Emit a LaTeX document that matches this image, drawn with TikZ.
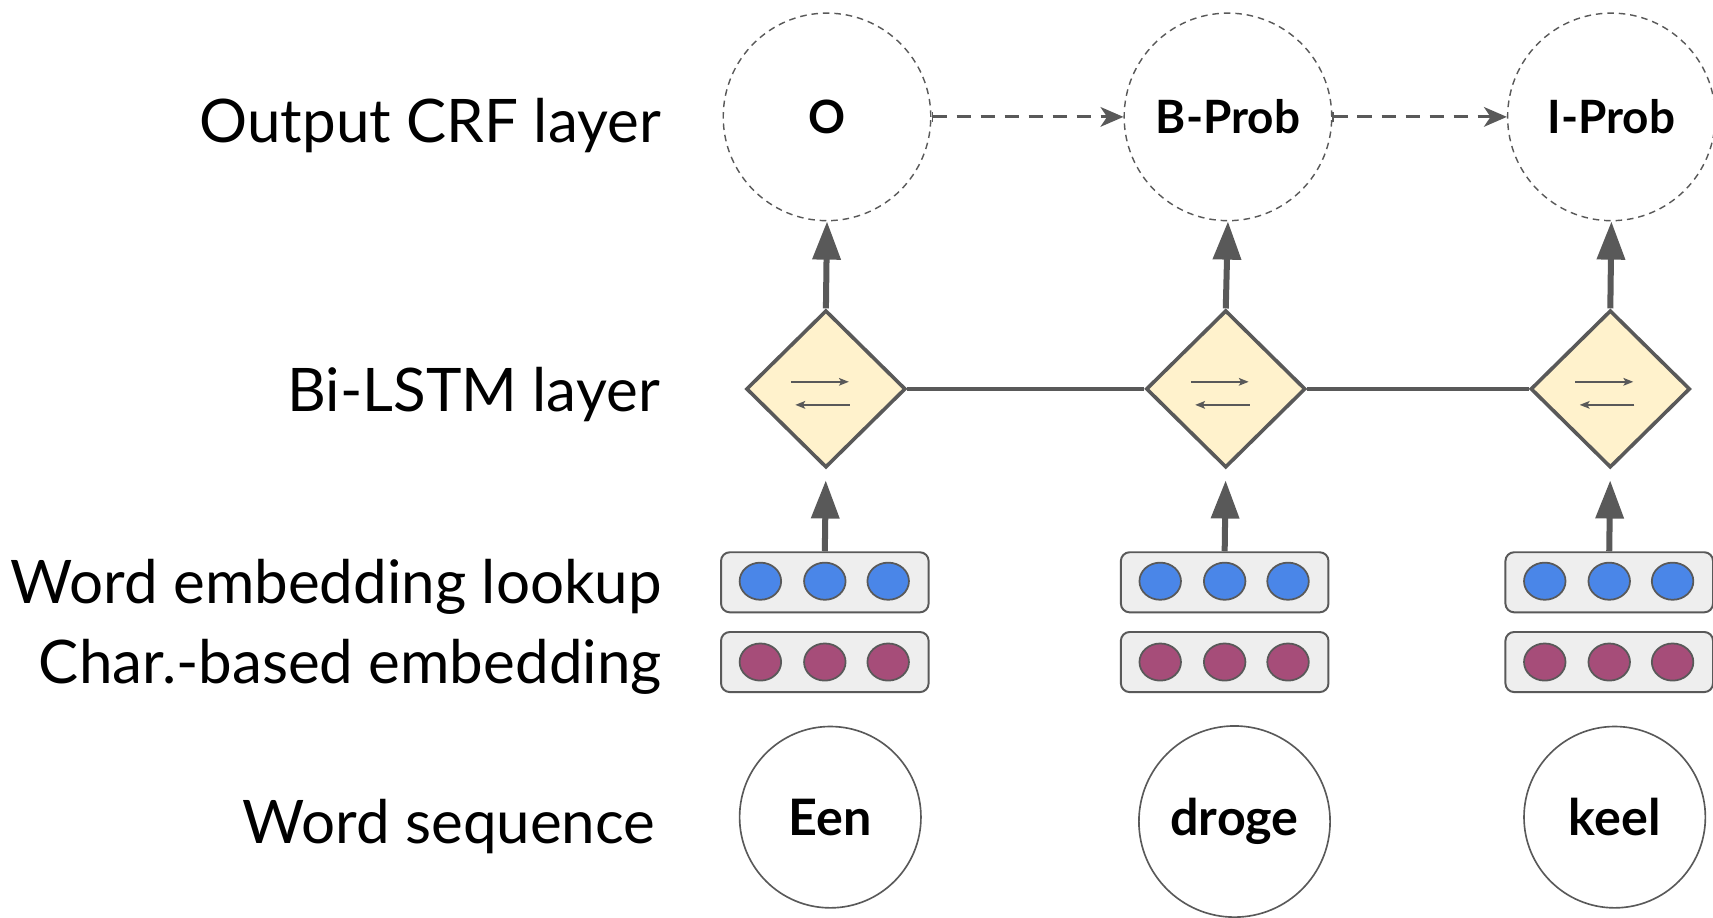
\documentclass[tikz,border=0pt]{standalone}
\usepackage{fontspec}
\setmainfont{Lato}
\usetikzlibrary{shapes.geometric,arrows.meta}

\definecolor{edge}{HTML}{595959}
\definecolor{lstmfill}{HTML}{FFF2CC}
\definecolor{boxfill}{HTML}{EEEEEE}
\definecolor{wordblue}{HTML}{4A86E8}
\definecolor{charpurple}{HTML}{A64D79}

\begin{document}
\begin{tikzpicture}[x=1pt,y=-1pt,
  layerlabel/.style={anchor=base east, inner sep=0pt, font=\fontsize{55}{64}\selectfont},
  outnode/.style={circle, draw=edge, line width=1.3pt, dash pattern=on 6pt off 4.5pt,
    minimum size=190pt, inner sep=0pt, font=\bfseries\fontsize{42}{48}\selectfont},
  wordnode/.style={circle, draw=edge, line width=1.5pt, minimum size=166pt, inner sep=0pt,
    font=\bfseries\fontsize{46}{52}\selectfont},
  lstm/.style={diamond, draw=edge, fill=lstmfill, line width=3.3pt,
    minimum width=146pt, minimum height=144pt, inner sep=0pt},
  embbox/.style={draw=edge, fill=boxfill, line width=1.8pt, rounded corners=8pt,
    minimum width=190pt, minimum height=55pt, inner sep=0pt},
  dot/.style={ellipse, draw=edge, line width=1.6pt, minimum width=38pt, minimum height=34pt, inner sep=0pt},
  upflow/.style={draw=edge, line width=5.5pt, -{Triangle[width=25pt,length=35pt]}},
  chain/.style={draw=edge, line width=3pt},
  transition/.style={draw=edge, line width=2.8pt, dash pattern=on 13pt off 9pt,
    {Bar[width=9pt,line width=1.2pt]}-{Stealth[length=21pt,width=18pt,inset=6pt]}},
  innerarrow/.style={draw=edge, line width=1.6pt, -{Stealth[length=9pt,width=7pt,inset=2pt]}}
]
\useasboundingbox (0,0) rectangle (1568,840);
\clip (0,0) rectangle (1568,840);

% layer names
\node[layerlabel] (lOut)  at (605,130) {Output CRF layer};
\node[layerlabel] (lLstm) at (604,377) {Bi-LSTM layer};
\node[layerlabel] (lWord) at (606,552) {Word embedding lookup};
\node[layerlabel] (lChar) at (606,626) {Char.-based embedding};
\node[layerlabel] (lSeq)  at (600,772) {Word sequence};

% output CRF tags
\node[outnode] (o1) at (757,107)  {O};
\node[outnode] (o2) at (1124,107) {B-Prob};
\node[outnode] (o3) at (1475,107) {I-Prob};

% Bi-LSTM cells
\node[lstm] (d1) at (756,356)  {};
\node[lstm] (d2) at (1122,356) {};
\node[lstm] (d3) at (1474,356) {};

% word and character embeddings
\foreach \i/\x in {1/755, 2/1121, 3/1473} {
  \node[embbox] (w\i) at (\x,533) {};
  \node[embbox] (c\i) at (\x,606) {};
  \foreach \k/\dx in {a/-59, b/0, c/58} {
    \node[dot, fill=wordblue]   (w\i\k) at (\x+\dx,532) {};
    \node[dot, fill=charpurple] (c\i\k) at (\x+\dx,606) {};
  }
}

% input words
\node[wordnode] (s1) at (760,748) {Een};
\node[wordnode, minimum size=175pt] (s2) at (1130,752) {droge};
\node[wordnode] (s3) at (1478,748) {keel};

% direction arrows inside the cells: forward above, backward below
\foreach \i in {1,2,3} {
  \coordinate (f\i a) at ([shift={(-32,-6.5)}]d\i.center);
  \coordinate (f\i b) at ([shift={(21,-6.5)}]d\i.center);
  \coordinate (g\i a) at ([shift={(22,14.6)}]d\i.center);
  \coordinate (g\i b) at ([shift={(-28,14.6)}]d\i.center);
  \draw[innerarrow] (f\i a) -- (f\i b);
  \draw[innerarrow] (g\i a) -- (g\i b);
}

% connections
\draw[chain] (d1.east) -- (d2.west);
\draw[chain] (d2.east) -- (d3.west);
\foreach \i in {1,2,3} {
  \draw[upflow] (d\i.north) -- (o\i.south);
  \draw[upflow, shorten >=10pt] (w\i.north) -- (d\i.south);
}
\draw[transition] (o1.east) -- (o2.west);
\draw[transition] (o2.east) -- (o3.west);
\end{tikzpicture}
\end{document}
